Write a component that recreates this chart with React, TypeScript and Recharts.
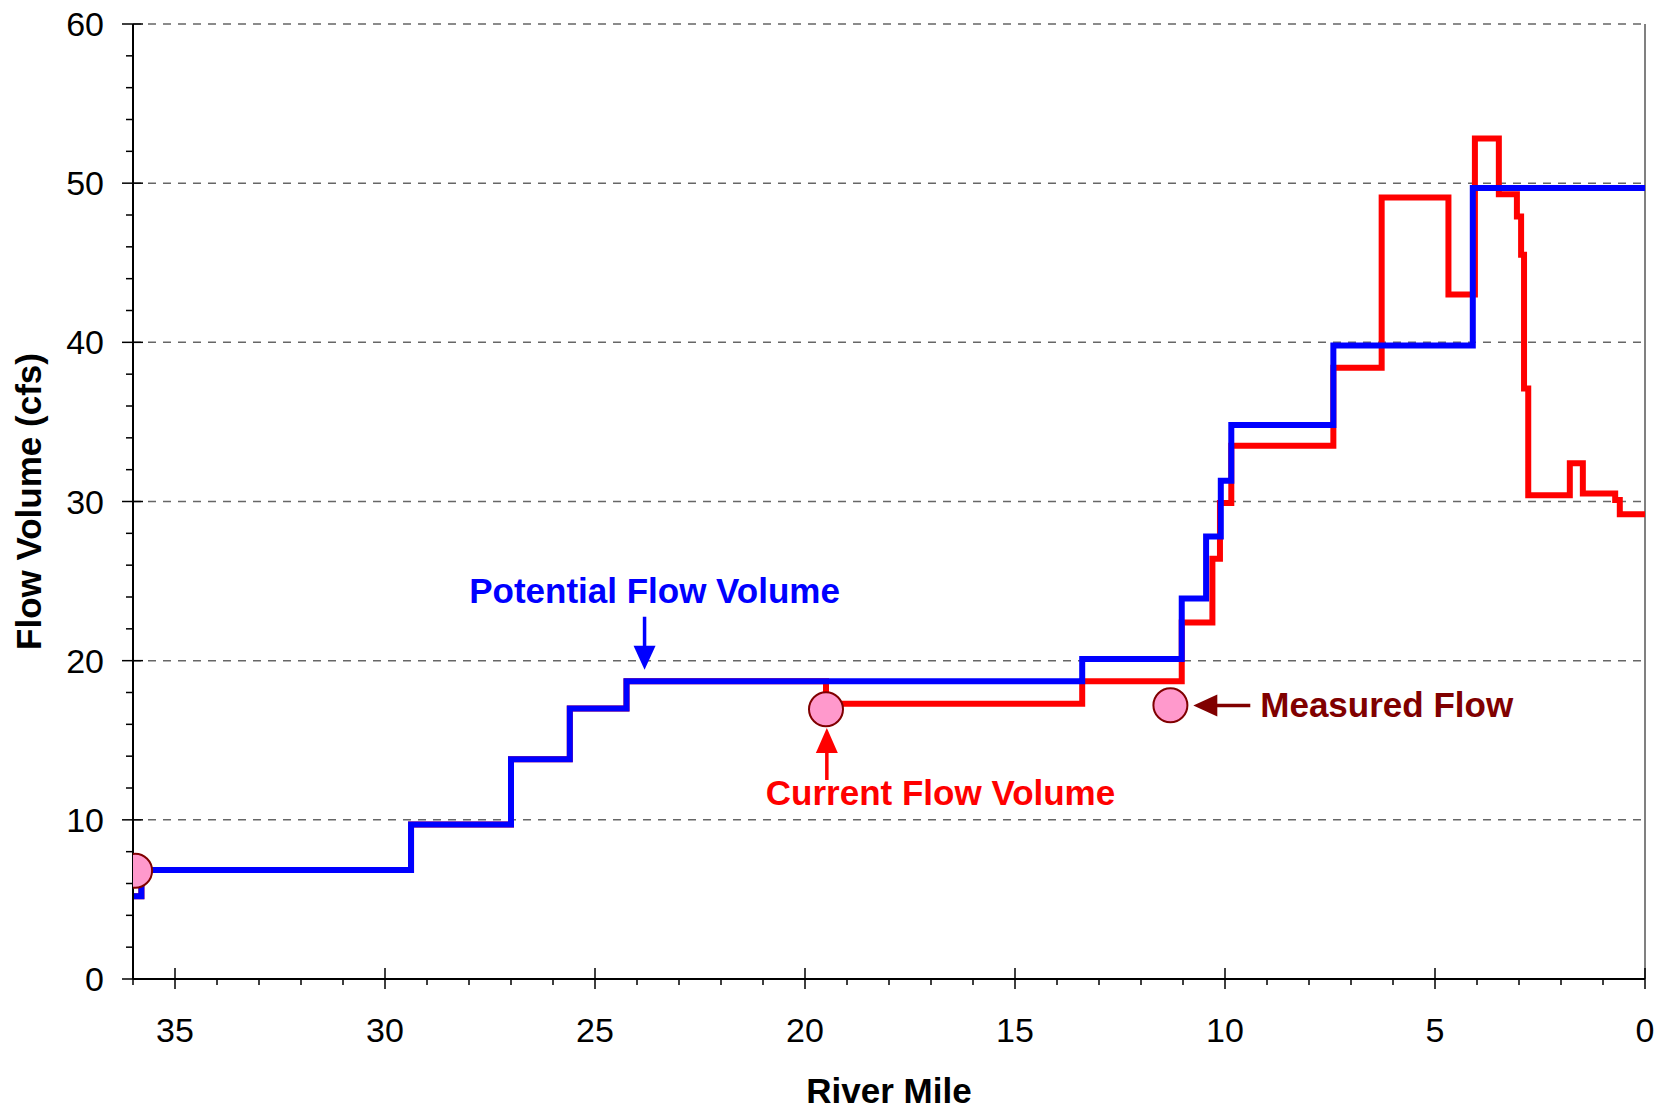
import React from 'react';
import {
  ComposedChart,
  Line,
  Scatter,
  XAxis,
  YAxis,
  CartesianGrid,
  ReferenceLine,
  ReferenceDot,
} from 'recharts';

const FONT = '"Liberation Sans", Arial, Helvetica, sans-serif';

// step vertices (river mile, cfs)
const potentialMile = [36, 35.8, 29.38, 27.0, 25.6, 24.25, 13.4, 11.03, 10.45, 10.1, 9.85, 7.42, 4.1, 0];
const potentialFlow = [5.2, 6.85, 9.7, 13.8, 17.0, 18.7, 20.1, 23.9, 27.8, 31.3, 34.8, 39.8, 49.7, 49.7];

const currentMile = [
  36, 35.8, 29.38, 27.0, 25.6, 24.25, 19.5, 13.4, 11.03, 10.3, 10.12, 9.85, 7.42, 6.27, 4.68,
  4.05, 3.48, 3.05, 2.95, 2.88, 2.78, 1.79, 1.48, 0.71, 0.6, 0,
];
const currentFlow = [
  5.2, 6.85, 9.7, 13.8, 17.0, 18.7, 17.3, 18.7, 22.4, 26.4, 29.9, 33.5, 38.4, 49.1, 43.0,
  52.8, 49.3, 47.9, 45.5, 37.1, 30.4, 32.4, 30.5, 30.1, 29.2, 29.2,
];

const measuredMile = [35.95, 19.5, 11.3];
const measuredFlow = [6.8, 16.95, 17.2];

const xTicks = [0, 1, 2, 3, 4, 5, 6, 7, 8, 9, 10, 11, 12, 13, 14, 15, 16, 17, 18, 19, 20, 21, 22, 23, 24, 25, 26, 27, 28, 29, 30, 31, 32, 33, 34, 35, 36];
const yTicks = [0, 2, 4, 6, 8, 10, 12, 14, 16, 18, 20, 22, 24, 26, 28, 30, 32, 34, 36, 38, 40, 42, 44, 46, 48, 50, 52, 54, 56, 58, 60];
const gridValues = [10, 20, 30, 40, 50, 60];

const toRows = (miles: number[], flows: number[]) =>
  miles.map((m, i) => ({ mile: m, flow: flows[i] }));

const potentialData = toRows(potentialMile, potentialFlow);
const currentData = toRows(currentMile, currentFlow);
const measuredData = toRows(measuredMile, measuredFlow);

const XTick = (props: any) => {
  const { x, y, payload } = props;
  const v = payload.value;
  const major = v % 5 === 0;
  return (
    <g>
      <line x1={x} x2={x} y1={major ? y - 11 : y} y2={major ? y + 10 : y + 6} stroke="#000" strokeWidth={1.5} />
      {major && (
        <text x={x} y={y + 63} textAnchor="middle" fontSize={34} fontFamily={FONT} fill="#000">
          {v}
        </text>
      )}
    </g>
  );
};

const YTick = (props: any) => {
  const { x, y, payload } = props;
  const v = payload.value;
  const major = v % 10 === 0;
  return (
    <g>
      <line x1={major ? x - 11 : x - 7} x2={major ? x + 10 : x} y1={y} y2={y} stroke="#000" strokeWidth={1.5} />
      {major && (
        <text x={x - 29} y={y + 12} textAnchor="end" fontSize={34} fontFamily={FONT} fill="#000">
          {v}
        </text>
      )}
    </g>
  );
};

const XTitle = (props: any) => {
  const vb = props.viewBox || { x: 133, y: 979, width: 1512 };
  return (
    <text x={vb.x + vb.width / 2} y={vb.y + 124} textAnchor="middle" fontSize={35} fontWeight="bold" fontFamily={FONT} fill="#000">
      River Mile
    </text>
  );
};

const YTitle = (props: any) => {
  const vb = props.viewBox || { x: 0, y: 24, height: 955 };
  const tx = vb.x + 41;
  const ty = vb.y + vb.height / 2;
  return (
    <text x={tx} y={ty} transform={`rotate(-90, ${tx}, ${ty})`} textAnchor="middle" fontSize={35} fontWeight="bold" fontFamily={FONT} fill="#000">
      Flow Volume (cfs)
    </text>
  );
};

const MeasuredDot = (props: any) => (
  <circle cx={props.cx} cy={props.cy} r={17} fill="#FF99CC" stroke="#800000" strokeWidth={2} />
);

const PotentialNote = ({ cx, cy }: any) => (
  <g>
    <text x={cx + 10} y={cy - 67} textAnchor="middle" fontSize={35} fontWeight="bold" fontFamily={FONT} fill="#0000FF">
      Potential Flow Volume
    </text>
    <line x1={cx} x2={cx} y1={cy - 53} y2={cy - 22} stroke="#0000FF" strokeWidth={3.5} />
    <polygon points={`${cx - 11},${cy - 24} ${cx + 11},${cy - 24} ${cx},${cy}`} fill="#0000FF" />
  </g>
);

const CurrentNote = ({ cx, cy }: any) => (
  <g>
    <polygon points={`${cx - 11},${cy + 25} ${cx + 11},${cy + 25} ${cx},${cy}`} fill="#FF0000" />
    <line x1={cx} x2={cx} y1={cy + 22} y2={cy + 52} stroke="#FF0000" strokeWidth={3.5} />
    <text x={cx - 61} y={cy + 77} textAnchor="start" fontSize={35} fontWeight="bold" fontFamily={FONT} fill="#FF0000">
      Current Flow Volume
    </text>
  </g>
);

const MeasuredNote = ({ cx, cy }: any) => (
  <g>
    <polygon points={`${cx},${cy} ${cx + 24},${cy - 11} ${cx + 24},${cy + 11}`} fill="#800000" />
    <line x1={cx + 22} x2={cx + 57} y1={cy} y2={cy} stroke="#800000" strokeWidth={3.5} />
    <text x={cx + 67} y={cy + 12} textAnchor="start" fontSize={35} fontWeight="bold" fontFamily={FONT} fill="#800000">
      Measured Flow
    </text>
  </g>
);

export default function App() {
  return (
    <div style={{ position: 'absolute', left: 0, top: 0, background: '#fff' }}>
      <ComposedChart width={1673} height={1109} margin={{ top: 24, right: 28, left: 0, bottom: 0 }}>
        <CartesianGrid horizontal vertical={false} horizontalValues={gridValues} stroke="#666" strokeDasharray="8 7" strokeWidth={1.5} />
        <XAxis
          dataKey="mile"
          type="number"
          domain={[0, 36]}
          reversed
          ticks={xTicks}
          interval={0}
          tickSize={0}
          tickMargin={0}
          tickLine={false}
          tick={XTick}
          axisLine={{ stroke: '#000', strokeWidth: 2 }}
          height={130}
          allowDataOverflow
          label={XTitle}
        />
        <YAxis
          dataKey="flow"
          type="number"
          domain={[0, 60]}
          ticks={yTicks}
          interval={0}
          tickSize={0}
          tickMargin={0}
          tickLine={false}
          tick={YTick}
          axisLine={{ stroke: '#000', strokeWidth: 2 }}
          width={133}
          allowDataOverflow
          label={YTitle}
        />
        <ReferenceLine x={0} stroke="#808080" strokeWidth={2} />
        <Line
          data={currentData}
          dataKey="flow"
          type="stepAfter"
          stroke="#FF0000"
          strokeWidth={6}
          strokeLinejoin="miter"
          dot={false}
          activeDot={false}
          isAnimationActive={false}
        />
        <Line
          data={potentialData}
          dataKey="flow"
          type="stepAfter"
          stroke="#0000FF"
          strokeWidth={6}
          strokeLinejoin="miter"
          dot={false}
          activeDot={false}
          isAnimationActive={false}
        />
        <Scatter data={measuredData} dataKey="flow" shape={MeasuredDot} isAnimationActive={false} />
        <ReferenceDot x={23.82} y={19.43} shape={PotentialNote} />
        <ReferenceDot x={19.48} y={15.77} shape={CurrentNote} />
        <ReferenceDot x={10.755} y={17.19} shape={MeasuredNote} />
      </ComposedChart>
    </div>
  );
}
